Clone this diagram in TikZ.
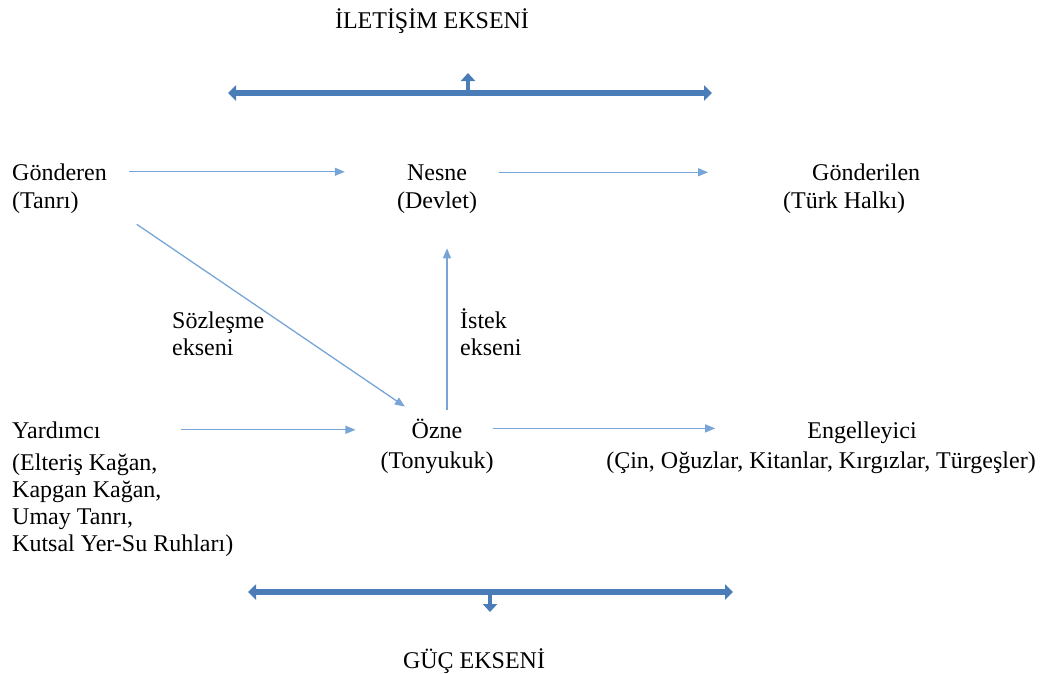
\documentclass[tikz,border=0pt]{standalone}
\usepackage{fontspec}
\setmainfont{Liberation Serif}
\usetikzlibrary{arrows.meta}
\definecolor{linkblue}{RGB}{120,165,215}
\definecolor{axisblue}{RGB}{74,124,184}
\begin{document}
\begin{tikzpicture}[x=1pt,y=-1pt,
    every node/.style={inner sep=0pt,font=\fontsize{24}{27}\selectfont},
    link/.style={draw=linkblue,line width=1.3pt,-{Triangle[width=8pt,length=10pt]}},
    axis/.style={draw=axisblue,line width=5.5pt,{Triangle[width=15pt,length=8pt]}-{Triangle[width=15pt,length=8pt]}},
    stub/.style={draw=axisblue,line width=4pt,-{Triangle[width=14pt,length=8pt]}}]

  \useasboundingbox (0,0) rectangle (1040,673);

  \node[anchor=base] (iletisim) at (432,28) {İLETİŞİM EKSENİ};
  \node[anchor=base] (guc) at (474,668) {GÜÇ EKSENİ};

  \begin{scope}[every node/.append style={anchor=base}]
    \node (nesne) at (437,180) {Nesne};
    \node (devlet) at (437,208) {(Devlet)};
    \node (ozne) at (437,438) {Özne};
    \node (tonyukuk) at (437,468) {(Tonyukuk)};
    \node (engelleyici) at (862,438) {Engelleyici};
    \node (karsitlar) at (821,468) {(Çin, Oğuzlar, Kitanlar, Kırgızlar, Türgeşler)};
  \end{scope}

  \begin{scope}[every node/.append style={anchor=base west,align=left}]
    \node (gonderen) at (12,180) {Gönderen};
    \node (tanri) at (12,208) {(Tanrı)};
    \node (gonderilen) at (812,180) {Gönderilen};
    \node (turk) at (783,208) {(Türk Halkı)};
    \node (sozlesme) at (172,355) {Sözleşme\\ekseni};
    \node (istek) at (460,355) {İstek\\ekseni};
    \node (yardimci) at (12,438) {Yardımcı};
    \node (yardimcilar) at (12,551) {(Elteriş Kağan,\\Kapgan Kağan,\\Umay Tanrı,\\Kutsal Yer-Su Ruhları)};
  \end{scope}

  % eksenler
  \coordinate (topleft) at (228,93);
  \coordinate (topright) at (712,93);
  \coordinate (topmid) at (468,93);
  \coordinate (toptip) at (468,73);
  \coordinate (botleft) at (248,592);
  \coordinate (botright) at (733,592);
  \coordinate (botmid) at (490,592);
  \coordinate (bottip) at (490,612);

  \draw[stub] (topmid) -- (toptip);
  \draw[axis] (topleft) -- (topright);
  \draw[stub] (botmid) -- (bottip);
  \draw[axis] (botleft) -- (botright);

  \draw[link,shorten <=22pt,shorten >=62pt] (gonderen.east) -- (gonderen.east -| nesne.west);
  \draw[link,shorten <=32pt,shorten >=104pt] (nesne.east) -- (nesne.east -| gonderilen.west);
  \draw[link,shorten <=78pt,shorten >=21pt] (gonderen) -- (ozne);
  \draw[link,shorten <=8pt,shorten >=35pt] ([xshift=10pt]ozne.north) -- ([xshift=10pt]devlet.south);
  \draw[link,shorten <=80pt,shorten >=56pt] (yardimci.east) -- (yardimci.east -| ozne.west);
  \draw[link,shorten <=30pt,shorten >=92pt] (ozne.east) -- (ozne.east -| engelleyici.west);

\end{tikzpicture}
\end{document}
